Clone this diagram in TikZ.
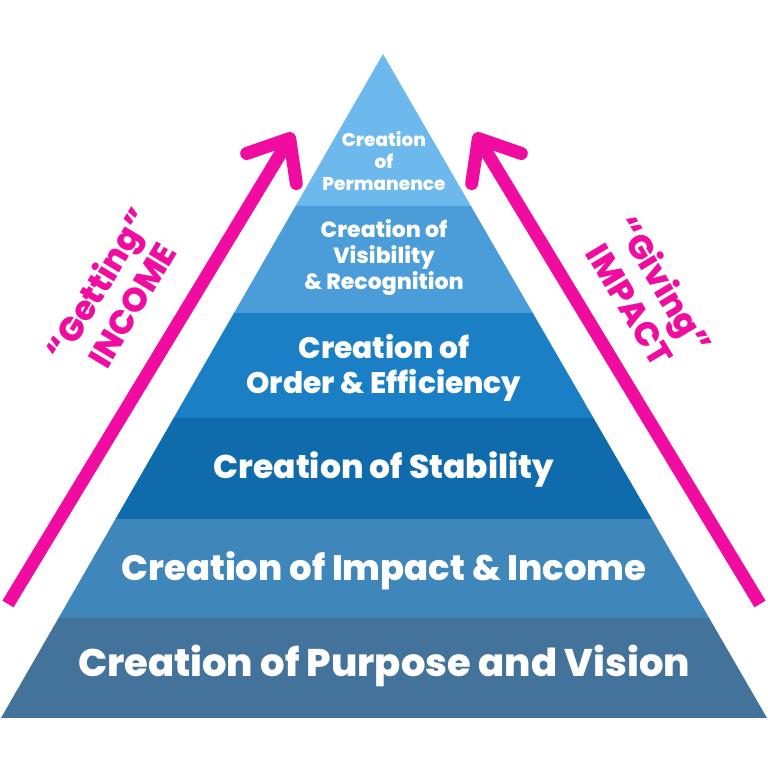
\documentclass[tikz,border=0pt]{standalone}
\usepackage{fontspec}
\setmainfont{Poppins}[BoldFont={Poppins ExtraBold}]
\usetikzlibrary{calc,arrows.meta}
\definecolor{hotpink}{HTML}{F00CA0}
\definecolor{permC}{HTML}{6DB9EE}
\definecolor{visC}{HTML}{4A9DD8}
\definecolor{orderC}{HTML}{1B7FC6}
\definecolor{stabC}{HTML}{0F6BAC}
\definecolor{impactC}{HTML}{3F87BA}
\definecolor{purposeC}{HTML}{43739A}
\newcommand{\fs}[1]{\fontsize{#1}{1.18\dimexpr#1pt\relax}\selectfont\bfseries}
\tikzset{
  layertext/.style={text=white,align=center,inner sep=0pt},
  pinktext/.style={text=hotpink,align=center,inner sep=0pt,font=\fs{33.5}},
  pinkarrow/.style={draw=hotpink,line width=13pt,-{Straight Barb[length=35pt,width=58pt,round]}}
}
\begin{document}
\begin{tikzpicture}[x=1pt,y=1pt]
\fill[white] (0,0) rectangle (768,768);
\useasboundingbox (0,0) rectangle (768,768);
\coordinate (apex) at (383,714);
\coordinate (bl) at (1,50);
\coordinate (br) at (767,50);
% pyramid layers, top to bottom
\foreach \ta/\tb/\col in {0/0.2289/permC,0.2289/0.3901/visC,0.3901/0.5482/orderC,
  0.5482/0.7003/stabC,0.7003/0.8494/impactC,0.8494/1/purposeC}
  \fill[\col] ($(apex)!\ta!(bl)$) -- ($(apex)!\tb!(bl)$) -- ($(apex)!\tb!(br)$) -- ($(apex)!\ta!(br)$) -- cycle;
\node[layertext,font=\fs{18.5}] (perm) at (384,607) {Creation\\of\\Permanence};
\node[layertext,font=\fs{22}] (vis) at (384,510) {Creation of\\Visibility\\\& Recognition};
\node[layertext,font=\fs{29.7}] (order) at (384,400) {Creation of\\Order \& Efficiency};
\node[layertext,font=\fs{32.9}] (stab) at (384,299) {Creation of Stability};
\node[layertext,font=\fs{35.4}] (impact) at (384,197) {Creation of Impact \& Income};
\node[layertext,font=\fs{38.5}] (purpose) at (384,102) {Creation of Purpose and Vision};
% side arrows
\coordinate (getFrom) at (8,164);
\coordinate (getTo) at (293,635);
\coordinate (giveFrom) at (760,164);
\coordinate (giveTo) at (475,635);
\draw[pinkarrow] (getFrom) -- (getTo);
\draw[pinkarrow] (giveFrom) -- (giveTo);
\node[pinktext,rotate=59] (getting) at (114,474) {“Getting”\\INCOME};
\node[pinktext,rotate=-59] (giving) at (648,474) {“Giving”\\IMPACT};
\end{tikzpicture}
\end{document}
